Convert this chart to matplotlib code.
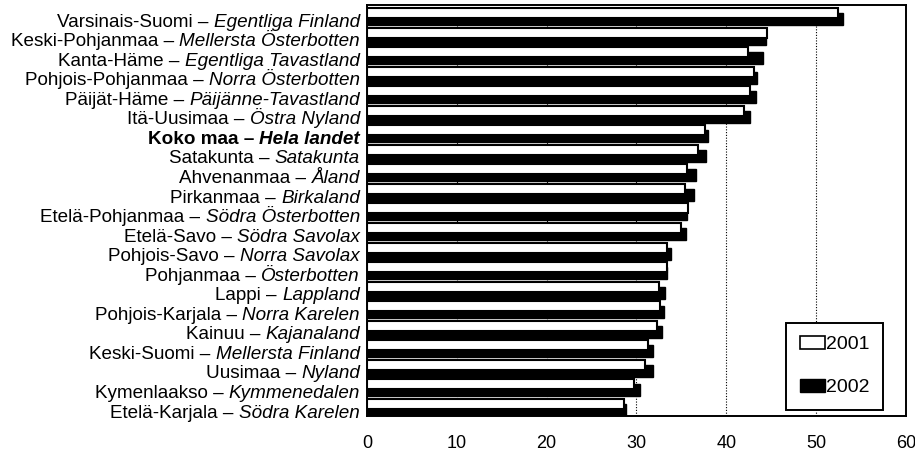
import matplotlib
matplotlib.use("Agg")
import matplotlib.pyplot as plt
from matplotlib.patches import Patch

plt.rcParams['font.family'] = ['Liberation Sans', 'DejaVu Sans']

### data, top row first ###
regions_fi = ["Varsinais-Suomi", "Keski-Pohjanmaa", "Kanta-Häme", "Pohjois-Pohjanmaa",
              "Päijät-Häme", "Itä-Uusimaa", "Koko maa", "Satakunta", "Ahvenanmaa",
              "Pirkanmaa", "Etelä-Pohjanmaa", "Etelä-Savo", "Pohjois-Savo", "Pohjanmaa",
              "Lappi", "Pohjois-Karjala", "Kainuu", "Keski-Suomi", "Uusimaa",
              "Kymenlaakso", "Etelä-Karjala"]
regions_sv = ["Egentliga Finland", "Mellersta Österbotten", "Egentliga Tavastland",
              "Norra Österbotten", "Päijänne-Tavastland", "Östra Nyland", "Hela landet",
              "Satakunta", "Åland", "Birkaland", "Södra Österbotten", "Södra Savolax",
              "Norra Savolax", "Österbotten", "Lappland", "Norra Karelen", "Kajanaland",
              "Mellersta Finland", "Nyland", "Kymmenedalen", "Södra Karelen"]
v2001 = [52.4, 44.5, 42.4, 43.1, 42.7, 42.0, 37.6, 36.9, 35.6, 35.4, 35.7,
         35.0, 33.4, 33.4, 32.5, 32.6, 32.3, 31.3, 31.0, 29.7, 28.6]
v2002 = [53.0, 44.4, 44.1, 43.4, 43.3, 42.6, 38.0, 37.8, 36.6, 36.4, 35.6,
         35.5, 33.8, 33.4, 33.2, 33.1, 32.8, 31.8, 31.8, 30.4, 28.8]
bold_row = "Koko maa"
xticks = [0, 10, 20, 30, 40, 50, 60]

fs = 13.6
rows = list(range(len(regions_fi)))

fig = plt.figure(figsize=(9.15, 4.54), dpi=100)
ax = fig.add_axes([0.401, 0.084, 0.589, 0.905])

# black (2002) behind, white (2001) on top, shifted upward
ax.barh([r + 0.128 for r in rows], v2002, height=0.615, color="black",
        edgecolor="black", linewidth=1, zorder=2)
ax.barh([r - 0.178 for r in rows], v2001, height=0.515, color="white",
        edgecolor="black", linewidth=1.5, zorder=3)

ax.set_xlim(0, 60)
ax.set_ylim(20.435, -0.59)
ax.set_xticks(xticks)
ax.set_xticklabels([str(t) for t in xticks], fontsize=13)
ax.tick_params(axis="x", length=0, pad=14)
ax.set_yticks([])
ax.grid(axis="x", color="black", linestyle=(0, (1, 1.5)), linewidth=0.8, zorder=1)
ax.set_axisbelow(True)
for s in ax.spines.values():
    s.set_linewidth(1.4)

### two-part labels: Finnish upright, Swedish italic ###
for r, fi, sv in zip(rows, regions_fi, regions_sv):
    w = "bold" if fi == bold_row else "normal"
    yb = r + 0.52
    t_sv = ax.annotate(sv, xy=(0, yb), xycoords=ax.get_yaxis_transform(),
                       xytext=(-5, 0), textcoords="offset points",
                       ha="right", va="baseline", fontsize=fs,
                       style="italic", weight=w)
    ax.annotate(fi + " – ", xy=(0, yb), xycoords=(t_sv, "data"),
                ha="right", va="baseline", fontsize=fs, weight=w)

handles = [Patch(facecolor="white", edgecolor="black", linewidth=1.2, label="2001"),
           Patch(facecolor="black", edgecolor="black", label="2002")]
leg = ax.legend(handles=handles, loc="lower right", bbox_to_anchor=(0.957, 0.015),
                borderaxespad=0, fontsize=14, fancybox=False, framealpha=1,
                edgecolor="black", labelspacing=1.35, handlelength=1.3,
                handleheight=0.6, handletextpad=0.05, borderpad=0.68)
leg.get_frame().set_linewidth(1.4)

fig.savefig("out.png", dpi=100)
